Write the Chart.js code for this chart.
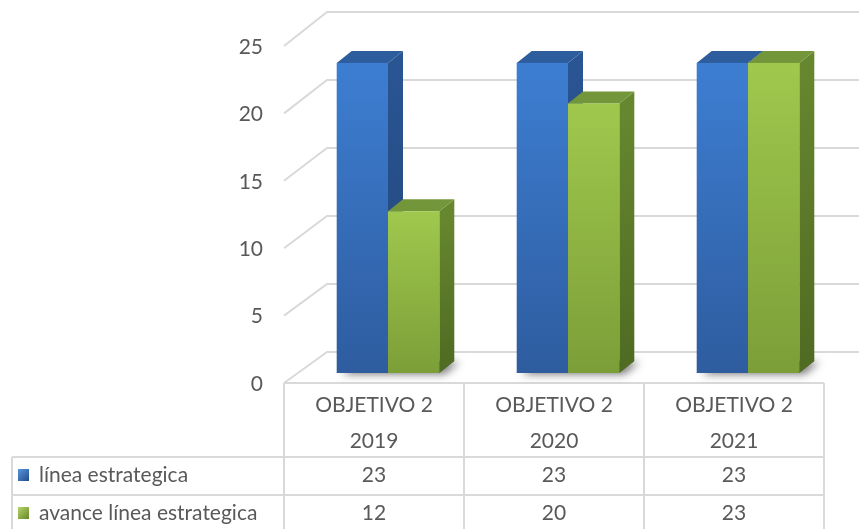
<!DOCTYPE html>
<html>
<head>
<meta charset="utf-8">
<script src="https://cdn.jsdelivr.net/npm/chart.js@4.4.1/dist/chart.umd.min.js"></script>
<style>
  html, body { margin: 0; padding: 0; background: #fff; }
  #wrap { width: 859px; height: 529px; }
</style>
</head>
<body>
<div id="wrap"><canvas id="chart" width="859" height="529"></canvas></div>
<script>
// Datos del gráfico
const categorias = [['OBJETIVO 2', '2019'], ['OBJETIVO 2', '2020'], ['OBJETIVO 2', '2021']];
const lineaEstrategica = [23, 23, 23];
const avanceLinea = [12, 20, 23];
const nombresSeries = ['línea estrategica', 'avance línea estrategica'];
const yMax = 25;
const yPaso = 5;

const TEXTO = '#595959';
const REJILLA = '#d9d9d9';
const FUENTE = 'Lato, "Liberation Sans", sans-serif';

// colores de las caras (frente, lateral, tapa)
const paletas = [
    { frente: ['#3d7ed2', '#2e5c9f'], lado: ['#2a5593', '#214679'], tapa: '#2d5d9d', clave: ['#5b95dc', '#23508f'] },
    { frente: ['#a0c84d', '#7c9e38'], lado: ['#67872f', '#4f6a22'], tapa: '#74963a', clave: ['#b5d66a', '#6a8a2c'] }
];

// desplazamientos de la perspectiva
const DX = 15, DY = 12;     // profundidad de cada barra
const FX = -14, FY = 10;    // plano frontal (suelo / tabla)
const BX = 29, BY = -21;    // pared del fondo

function barra3d(ctx, izq, der, arriba, base, p) {
    let g = ctx.createLinearGradient(0, arriba, 0, base);
    g.addColorStop(0, p.lado[0]);
    g.addColorStop(1, p.lado[1]);
    ctx.fillStyle = g;
    ctx.beginPath();
    ctx.moveTo(der, arriba);
    ctx.lineTo(der + DX, arriba - DY);
    ctx.lineTo(der + DX, base - DY);
    ctx.lineTo(der, base);
    ctx.closePath();
    ctx.fill();

    ctx.fillStyle = p.tapa;
    ctx.beginPath();
    ctx.moveTo(izq, arriba);
    ctx.lineTo(izq + DX, arriba - DY);
    ctx.lineTo(der + DX, arriba - DY);
    ctx.lineTo(der, arriba);
    ctx.closePath();
    ctx.fill();

    g = ctx.createLinearGradient(0, arriba, 0, base);
    g.addColorStop(0, p.frente[0]);
    g.addColorStop(1, p.frente[1]);
    ctx.fillStyle = g;
    ctx.fillRect(izq, arriba, der - izq, base - arriba);
}

const escena3d = {
    id: 'escena3d',
    beforeDatasetsDraw(chart) {
        const { ctx, chartArea: a, scales: { y } } = chart;
        const base = y.getPixelForValue(0);

        // rejilla en perspectiva
        ctx.save();
        ctx.strokeStyle = REJILLA;
        ctx.lineWidth = 2;
        y.ticks.forEach(t => {
            const py = y.getPixelForValue(t.value);
            const by = base + BY - (base - py) * 1.009;
            ctx.beginPath();
            ctx.moveTo(a.left + FX, py + FY);
            ctx.lineTo(a.left + BX, by);
            ctx.lineTo(a.right + BX, by);
            ctx.stroke();
        });
        // borde frontal del suelo
        ctx.beginPath();
        ctx.moveTo(a.left + FX, base + FY);
        ctx.lineTo(a.right + FX, base + FY);
        ctx.stroke();
        ctx.restore();

        const metas = chart.data.datasets.map((_, d) => chart.getDatasetMeta(d));
        chart.data.labels.forEach((_, i) => {
            const barras = metas.map(m => m.data[i].getProps(['x', 'y', 'width', 'base'], true));
            const izq = barras[0].x - barras[0].width / 2;
            const ult = barras[barras.length - 1];
            const der = ult.x + ult.width / 2;

            // sombra en el suelo
            ctx.save();
            ctx.shadowColor = 'rgba(0,0,0,0.55)';
            ctx.shadowBlur = 8;
            ctx.shadowOffsetX = 5;
            ctx.shadowOffsetY = 1;
            ctx.fillStyle = '#777';
            ctx.beginPath();
            ctx.moveTo(izq, base);
            ctx.lineTo(der, base);
            ctx.lineTo(der + DX, base - DY);
            ctx.lineTo(izq + DX, base - DY);
            ctx.closePath();
            ctx.fill();
            ctx.restore();

            barras.forEach((b, d) => {
                barra3d(ctx, b.x - b.width / 2, b.x + b.width / 2, b.y, b.base, paletas[d]);
            });
        });
        return false;
    }
};

const tablaDatos = {
    id: 'tablaDatos',
    afterDraw(chart) {
        const { ctx, scales: { x, y } } = chart;
        const base = y.getPixelForValue(0);
        const arriba = base + FY;
        const medio = (x.getPixelForValue(1) - x.getPixelForValue(0)) / 2;
        const centros = chart.data.labels.map((_, i) => x.getPixelForValue(i) + FX);
        const izq0 = centros[0] - medio;
        const derFin = centros[centros.length - 1] + medio;
        const izqEtiq = 12;
        const r1 = arriba + 74, r2 = r1 + 38, r3 = r2 + 38;

        ctx.save();
        ctx.strokeStyle = REJILLA;
        ctx.lineWidth = 2;
        ctx.beginPath();
        [izq0, ...centros.map(c => c + medio)].forEach(cx => {
            ctx.moveTo(cx, arriba);
            ctx.lineTo(cx, r3);
        });
        ctx.moveTo(izqEtiq, r1);
        ctx.lineTo(izqEtiq, r3);
        [r1, r2, r3].forEach(ry => {
            ctx.moveTo(izqEtiq, ry);
            ctx.lineTo(derFin, ry);
        });
        ctx.stroke();

        ctx.fillStyle = TEXTO;
        ctx.font = '21px ' + FUENTE;
        ctx.textBaseline = 'middle';
        ctx.textAlign = 'center';
        chart.data.labels.forEach((lab, i) => {
            ctx.fillText(lab[0], centros[i], arriba + 22);
            ctx.fillText(lab[1], centros[i], arriba + 58);
        });

        const filas = [r1 + 18, r2 + 18];
        chart.data.datasets.forEach((ds, d) => {
            ctx.textAlign = 'center';
            ds.data.forEach((v, i) => ctx.fillText(String(v), centros[i], filas[d]));
            // clave de la leyenda
            const p = paletas[d];
            const g = ctx.createLinearGradient(18, filas[d] - 6, 29, filas[d] + 5);
            g.addColorStop(0, p.clave[0]);
            g.addColorStop(1, p.clave[1]);
            ctx.fillStyle = g;
            ctx.fillRect(18, filas[d] - 6, 11, 12);
            ctx.fillStyle = TEXTO;
            ctx.textAlign = 'left';
            ctx.fillText(ds.label, 39, filas[d]);
        });
        ctx.restore();
    }
};

new Chart(document.getElementById('chart'), {
    type: 'bar',
    data: {
        labels: categorias,
        datasets: [
            { label: nombresSeries[0], data: lineaEstrategica, backgroundColor: paletas[0].frente[0] },
            { label: nombresSeries[1], data: avanceLinea, backgroundColor: paletas[1].frente[0] }
        ]
    },
    options: {
        responsive: false,
        animation: false,
        devicePixelRatio: 1,
        layout: { padding: { top: 36, right: 21, bottom: 156, left: 0 } },
        datasets: { bar: { categoryPercentage: 0.57, barPercentage: 1 } },
        plugins: { legend: { display: false }, tooltip: { enabled: false } },
        scales: {
            x: { display: false },
            y: {
                min: 0,
                max: yMax,
                afterFit(scale) {
                    scale.width = 298;
                    scale.paddingTop = 0;
                    scale.paddingBottom = 0;
                },
                border: { display: false },
                grid: { display: false, drawTicks: false },
                ticks: {
                    stepSize: yPaso,
                    padding: 35,
                    labelOffset: 11,
                    color: TEXTO,
                    font: { family: FUENTE, size: 21 }
                }
            }
        }
    },
    plugins: [escena3d, tablaDatos]
});
</script>
</body>
</html>
